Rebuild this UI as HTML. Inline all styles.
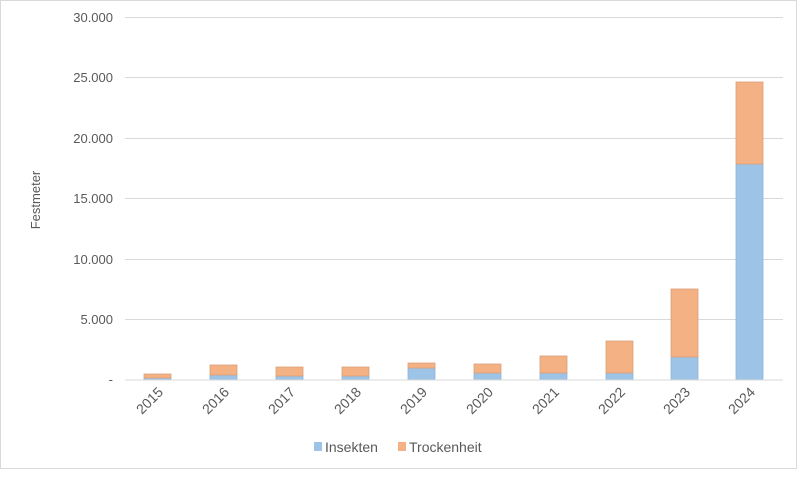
<!DOCTYPE html>
<html><head><style>
body{margin:0;background:#fff;}
svg text{font-family:"Liberation Sans",sans-serif;fill:#595959;}
</style></head><body>
<svg width="800" height="479" xmlns="http://www.w3.org/2000/svg">
<rect x="0.5" y="0.5" width="796" height="468" fill="#fff" stroke="#d9d9d9"/>
<g stroke="#d9d9d9" stroke-width="1">
<line x1="125" x2="783" y1="17.5" y2="17.5"/>
<line x1="125" x2="783" y1="77.5" y2="77.5"/>
<line x1="125" x2="783" y1="138.5" y2="138.5"/>
<line x1="125" x2="783" y1="198.5" y2="198.5"/>
<line x1="125" x2="783" y1="259.5" y2="259.5"/>
<line x1="125" x2="783" y1="319.5" y2="319.5"/>
</g>
<g font-size="13" text-anchor="end">
<text x="113" y="22">30.000</text>
<text x="113" y="82">25.000</text>
<text x="113" y="143">20.000</text>
<text x="113" y="203">15.000</text>
<text x="113" y="264">10.000</text>
<text x="113" y="324">5.000</text>
<text x="113" y="384">-</text>
</g>
<text x="40" y="200" font-size="13" text-anchor="middle" transform="rotate(-90 40 200)">Festmeter</text>
<g stroke-width="0.8">
<rect x="144" y="378" width="27" height="2" fill="#9dc3e6" stroke="#8fb4d9"/><rect x="144" y="374" width="27" height="4" fill="#f4b183" stroke="#d9a07a"/>
<rect x="210" y="375" width="27" height="5" fill="#9dc3e6" stroke="#8fb4d9"/><rect x="210" y="365" width="27" height="10" fill="#f4b183" stroke="#d9a07a"/>
<rect x="276" y="376" width="27" height="4" fill="#9dc3e6" stroke="#8fb4d9"/><rect x="276" y="367" width="27" height="9" fill="#f4b183" stroke="#d9a07a"/>
<rect x="342" y="376" width="27" height="4" fill="#9dc3e6" stroke="#8fb4d9"/><rect x="342" y="367" width="27" height="9" fill="#f4b183" stroke="#d9a07a"/>
<rect x="408" y="368" width="27" height="12" fill="#9dc3e6" stroke="#8fb4d9"/><rect x="408" y="363" width="27" height="5" fill="#f4b183" stroke="#d9a07a"/>
<rect x="474" y="373" width="27" height="7" fill="#9dc3e6" stroke="#8fb4d9"/><rect x="474" y="364" width="27" height="9" fill="#f4b183" stroke="#d9a07a"/>
<rect x="540" y="373" width="27" height="7" fill="#9dc3e6" stroke="#8fb4d9"/><rect x="540" y="356" width="27" height="17" fill="#f4b183" stroke="#d9a07a"/>
<rect x="606" y="373" width="27" height="7" fill="#9dc3e6" stroke="#8fb4d9"/><rect x="606" y="341" width="27" height="32" fill="#f4b183" stroke="#d9a07a"/>
<rect x="671" y="357" width="27" height="23" fill="#9dc3e6" stroke="#8fb4d9"/><rect x="671" y="289" width="27" height="68" fill="#f4b183" stroke="#d9a07a"/>
<rect x="736" y="164" width="27" height="216" fill="#9dc3e6" stroke="#8fb4d9"/><rect x="736" y="82" width="27" height="82" fill="#f4b183" stroke="#d9a07a"/>
</g>
<line x1="125" x2="783" y1="380" y2="380" stroke="#d9d9d9"/>
<g font-size="14" text-anchor="end">
<text transform="translate(164,393) rotate(-45)">2015</text>
<text transform="translate(230,393) rotate(-45)">2016</text>
<text transform="translate(296,393) rotate(-45)">2017</text>
<text transform="translate(362,393) rotate(-45)">2018</text>
<text transform="translate(428,393) rotate(-45)">2019</text>
<text transform="translate(494,393) rotate(-45)">2020</text>
<text transform="translate(560,393) rotate(-45)">2021</text>
<text transform="translate(626,393) rotate(-45)">2022</text>
<text transform="translate(691,393) rotate(-45)">2023</text>
<text transform="translate(756,393) rotate(-45)">2024</text>
</g>
<rect x="314" y="442" width="8" height="9" fill="#9dc3e6"/>
<text x="325" y="452" font-size="14">Insekten</text>
<rect x="398" y="442" width="8" height="9" fill="#f4b183"/>
<text x="409" y="452" font-size="14">Trockenheit</text>
</svg>
</body></html>
